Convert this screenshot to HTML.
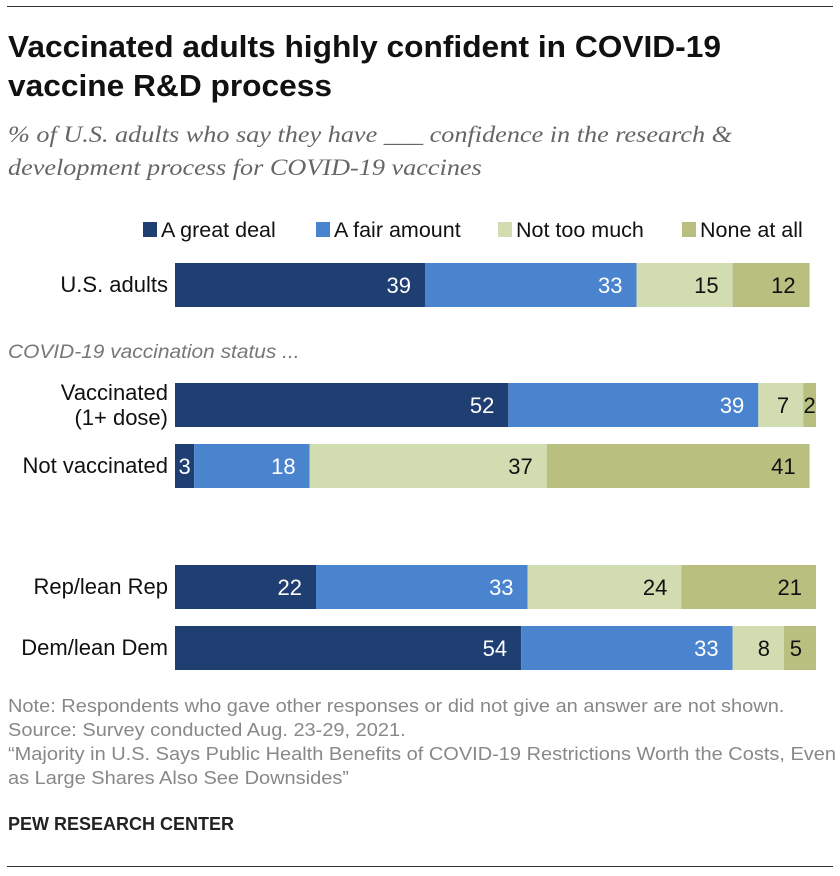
<!DOCTYPE html>
<html><head><meta charset="utf-8"><style>
body{margin:0;background:#fff;font-family:"Liberation Sans",Arial,sans-serif;}
#w{position:relative;width:840px;height:876px;overflow:hidden;}
.t{position:absolute;white-space:nowrap;transform-origin:0 0;}
</style></head><body>
<div id="w">
<div class="t" style="left:7px;top:6px;width:826px;height:1px;background:#333"></div>
<div class="t" style="left:8px;top:27px;font-size:31px;font-weight:bold;line-height:39px;color:#111;transform:scaleX(1.022)">Vaccinated adults highly confident in COVID-19<br>vaccine R&amp;D process</div>
<div class="t" style="left:8px;top:118px;font-size:23px;font-style:italic;font-family:'Liberation Serif',serif;line-height:33px;color:#666;transform:scaleX(1.14)">% of U.S. adults who say they have ___ confidence in the research &amp;<br>development process for COVID-19 vaccines</div>
<div class="t" style="left:8px;top:342px;font-size:19px;font-style:italic;color:#777;transform:scaleX(1.1)">COVID-19 vaccination status ...</div>
<svg id="svg" width="840" height="876" style="position:absolute;left:0;top:0"></svg>
<div class="t" style="left:8px;top:694px;font-size:18px;line-height:24px;color:#888;transform:scaleX(1.11)">Note: Respondents who gave other responses or did not give an answer are not shown.<br>Source: Survey conducted Aug. 23-29, 2021.<br>“Majority in U.S. Says Public Health Benefits of COVID-19 Restrictions Worth the Costs, Even<br>as Large Shares Also See Downsides”</div>
<div class="t" style="left:8px;top:814px;font-size:18px;font-weight:bold;color:#222">PEW RESEARCH CENTER</div>
<div class="t" style="left:7px;top:866px;width:826px;height:1px;background:#333"></div>
</div>
<script>
const categories=["U.S. adults","Vaccinated|(1+ dose)","Not vaccinated","Rep/lean Rep","Dem/lean Dem"];
const greatDeal=[39,52,3,22,54];
const fairAmount=[33,39,18,33,33];
const notTooMuch=[15,7,37,24,8];
const noneAtAll=[12,2,41,21,5];
const seriesNames=["A great deal","A fair amount","Not too much","None at all"];
const colors=["#1f3f73","#4a84cf","#d2dcb1","#b9bf7f"];
const textColors=["#fff","#fff","#111","#111"];
const rowTops=[263,383,444,565,626];
const barH=44, x0=175, unit=6.41;
const xs=v=>x0+v*unit;
const svg=document.getElementById('svg');
const NS="http://www.w3.org/2000/svg";
function mk(tag,attrs){const e=document.createElementNS(NS,tag);for(const k in attrs)e.setAttribute(k,attrs[k]);return e;}
const series=[greatDeal,fairAmount,notTooMuch,noneAtAll];
const legX=[143,316,498,682];
seriesNames.forEach((n,i)=>{
  const r=mk('rect',{x:legX[i],y:222,width:14,height:15,fill:colors[i]});
  
  
  svg.appendChild(r);
  const t=mk('text',{x:legX[i]+18,y:237,'font-size':21.5,fill:'#111'});
  t.textContent=n;
  
  
  svg.appendChild(t);
});
categories.forEach((c,ri)=>{
  const y=rowTops[ri];
  const lines=c.split('|');
  lines.forEach((l,li)=>{
    const t=mk('text',{x:168,y:y+(lines.length>1?29+li*25-12:29),'font-size':22,fill:'#111','text-anchor':'end'});
    t.textContent=l;
    
    
    svg.appendChild(t);
  });
  let cum=0;
  series.forEach((s,si)=>{
    const v=s[ri];
    const r=mk('rect',{x:xs(cum),y:y,width:v*unit,height:barH,fill:colors[si]});
    
    
    svg.appendChild(r);
    const w=v*unit;
    const small=w<30;
    const t=mk('text',{x:small?xs(cum)+w/2:xs(cum+v)-14,y:y+30,'font-size':22,fill:textColors[si],'text-anchor':small?'middle':'end'});
    t.textContent=v;
    
    
    svg.appendChild(t);
    cum+=v;
  });
});
</script>
</body></html>
